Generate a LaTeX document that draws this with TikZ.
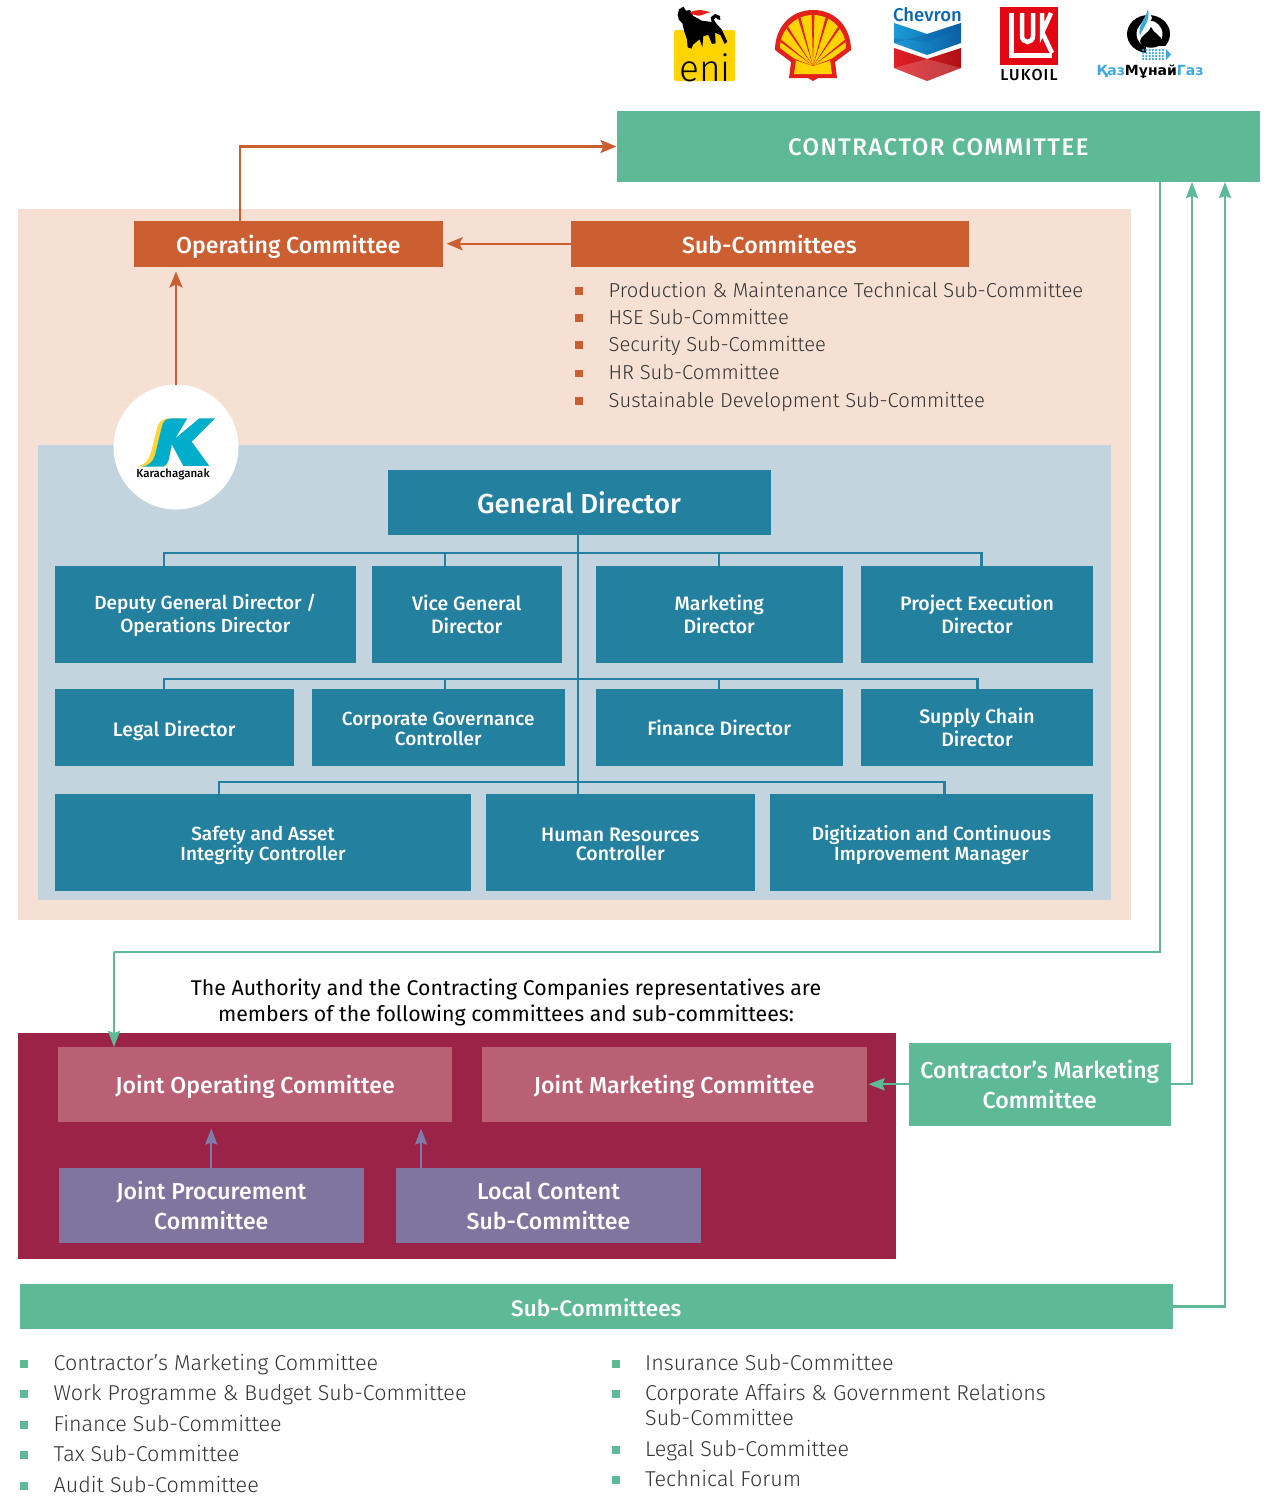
\documentclass[tikz,border=0pt]{standalone}
\usepackage{fontspec}
\setmainfont{Fira Sans}
\newfontfamily\mdf{Fira Sans Medium}
\newfontfamily\ltf{Fira Sans Light}
\newfontfamily\kmg{DejaVu Sans Bold}
\usetikzlibrary{arrows.meta}
\definecolor{peach}{HTML}{F5E0D3}
\definecolor{panel}{HTML}{C4D4DF}
\definecolor{teal1}{HTML}{23809E}
\definecolor{green1}{HTML}{5EBA96}
\definecolor{orange1}{HTML}{CB5F32}
\definecolor{crim}{HTML}{9B2348}
\definecolor{rose}{HTML}{B96075}
\definecolor{viol}{HTML}{7F759E}
\definecolor{arrowv}{HTML}{7F7BA8}
\definecolor{txt}{HTML}{333333}
\definecolor{kteal}{HTML}{00AECB}
\definecolor{kyel}{HTML}{FFD53A}
\definecolor{kblue}{HTML}{3DA9E0}
\definecolor{eniy}{HTML}{FFD400}
\definecolor{shellr}{HTML}{E4201B}
\definecolor{luk}{HTML}{E30613}
\definecolor{chevt}{HTML}{0B66B1}
\definecolor{chevb}{HTML}{1B9BD7}
\definecolor{chevd}{HTML}{0B5FA5}
\definecolor{chevr}{HTML}{E01F26}
\definecolor{chevs}{HTML}{B01116}
\newcommand{\fs}[2]{\fontsize{#1}{#2}\selectfont}
\newcommand{\tp}[1]{\rule{0pt}{#1pt}}
\tikzset{
  box/.style={inner sep=0pt,outer sep=0pt,align=center,text=white},
  tealbox/.style={fill=teal1,font=\mdf\fs{19.5}{#1}},
  tealsm/.style={fill=teal1,font=\mdf\fs{19}{#1}},
  headbox/.style={font=\mdf\fs{23.1}{30}},
  orgline/.style={draw=teal1,line width=2.4pt},
  orarrow/.style={draw=orange1,line width=2.4pt,-{Stealth[length=16pt,width=13pt,inset=3pt]}},
  grarrow/.style={draw=green1,line width=2.4pt,-{Stealth[length=16pt,width=12pt,inset=2pt]}},
  viarrow/.style={draw=arrowv,line width=2pt,-{Stealth[length=16pt,width=12pt,inset=2pt]}},
  listitem/.style={anchor=base west,inner sep=0pt,text=txt,font=\ltf\fs{21.5}{26},align=left},
  listtop/.style={listitem,font=\ltf\fs{20.2}{26}},
  bul/.style={inner sep=0pt,outer sep=0pt,minimum size=7.5pt},
}
% name, x0,y0,x1,y1, options, text
\newcommand{\bx}[7]{\node[box,#6,minimum width={(#4-#2)*1pt},minimum height={(#5-#3)*1pt}] (#1) at ({(#2+#4)/2},{(#3+#5)/2}) {#7};}
\begin{document}
\begin{tikzpicture}[x=1pt,y=-1pt]
\useasboundingbox (0,0) rectangle (1280,1507);
\fill[white] (0,0) rectangle (1280,1507);
% backgrounds
\fill[peach] (18,209) rectangle (1131,920);
\fill[panel] (38,444.5) rectangle (1110.5,900);
\fill[crim] (18,1033) rectangle (896,1258.5);
% top logos: eni
\fill[rounded corners=1.5pt,fill=eniy] (674,30) rectangle (735,81);
\begin{scope}[shift={(665,0)},x=0.3333pt,y=-0.3333pt]
\fill[black] (42,28)--(55,20)--(63,32)--(75,30)--(85,48)--(110,62)--(140,66)--(137,52)--(150,42)--(165,48)--(166,60)--(158,58)--(152,52)--(146,58)--(155,72)--(170,88)--(187,125)--(179,132)--(166,105)--(150,98)--(152,130)--(141,132)--(130,105)--(115,108)--(112,142)--(104,118)--(95,125)--(84,134)--(80,146)--(68,142)--(66,118)--(58,95)--(52,70)--(42,60)--(38,46)--cycle;
\fill[shellr] (74,38) .. controls (90,28) and (110,28) .. (136,37) .. controls (118,40) and (110,48) .. (98,47) .. controls (90,47) and (82,42) .. (74,38) -- cycle;
\end{scope}
\begin{scope}
\clip (670,45) rectangle (740,81);
\node[inner sep=0pt,anchor=base,font=\ltf\fs{37}{37}] (eni) at (705,81.5) {eni};
\end{scope}
% shell
\fill[shellr] (813,10) .. controls (790,10) and (775,28) .. (775,50) -- (791,62) -- (789,78) -- (808,78) -- (813,81) -- (818,78) -- (837,78) -- (835,62) -- (851,50) .. controls (851,28) and (836,10) .. (813,10) -- cycle;
\begin{scope}
\clip (813,15) .. controls (794,15) and (780,31) .. (780,48) -- (796,60) -- (794,74) -- (832,74) -- (830,60) -- (846,48) .. controls (846,31) and (832,15) .. (813,15) -- cycle;
\fill[eniy] (770,5) rectangle (856,85);
\foreach \a in {20,38,56,74,90,106,124,142,160}{
  \fill[shellr] (813,66) -- ++({-\a-1.5}:60) -- ++({90-\a}:3.2) -- cycle;
}
\end{scope}
% chevron
\node[inner sep=0pt,text=chevt,font=\mdf\fs{18.5}{20}] (chev) at (927.5,14.5) {Chevron};
\shade[left color=chevb,right color=chevd] (894,23)--(927,34)--(961,23)--(961,43)--(927,55)--(894,43)--cycle;
\fill[chevd,opacity=.35] (894,43)--(927,34)--(961,23)--(961,28)--(927,42)--(894,38)--cycle;
\shade[left color=chevr,right color=chevs] (894,48)--(927,59)--(961,48)--(961,68)--(927,81)--(894,68)--cycle;
\fill[white,opacity=.18] (894,68)--(927,59)--(961,68)--(927,81)--cycle;
% lukoil
\fill[luk] (1000,7) rectangle (1058,65);
\draw[white,line width=5pt] (1011,13)--(1011,55)--(1052,55);
\draw[white,line width=4.5pt] (1022,13)--(1022,36) arc[start angle=180,end angle=0,x radius=5.5pt,y radius=-6pt] -- (1033,13);
\draw[white,line width=4.5pt] (1042,13)--(1042,33)--(1051,13);
\draw[white,line width=4.5pt] (1042,32)--(1052,53);
\node[inner sep=0pt,font=\mdf\fs{16}{16}] (luk) at (1029,74.5) {\addfontfeatures{LetterSpace=7}LUKOIL};
% kmg
\fill[black,even odd rule] (1148.5,34) ellipse[x radius=21.5pt,y radius=19pt] (1149.5,34) ellipse[x radius=13pt,y radius=13.5pt];
\fill[white] (1146,46) rectangle (1172,60);
\fill[white] (1148,10) .. controls (1146,20) and (1136,26) .. (1138,38) .. controls (1142,30) and (1148,26) .. (1152,18) -- cycle;
\fill[kblue] (1148,9) .. controls (1146,18) and (1137,26) .. (1140,36) .. controls (1142,28) and (1151,22) .. (1148,9) -- cycle;
\fill[black] (1151,27) .. controls (1153,33) and (1162,36) .. (1162,41) .. controls (1162,50) and (1140,50) .. (1140,41) .. controls (1140,36) and (1149,33) .. (1151,27) -- cycle;
\foreach \i in {0,...,6}{\foreach \j in {0,...,3}{\fill[kblue] ({1143+\i*3.3},{50+\j*3}) circle[radius=1.25pt];}}
\fill[kblue] (1166,49) -- (1171,54.5) -- (1166,60) -- cycle;
\node[inner sep=0pt,font=\kmg\fs{14}{15}] (kz) at (1150,72) {\color{kblue}Қаз\color{black}Мұнай\color{kblue}Газ};
% contractor committee
\bx{cc}{616.5}{111}{1260}{182}{fill=green1,font=\mdf\fs{24}{28}}{\tp{19}\addfontfeatures{LetterSpace=6}CONTRACTOR COMMITTEE}
\bx{oc}{134}{221}{442.5}{266.5}{fill=orange1,headbox}{\tp{25}Operating Committee}
\bx{sc}{570.5}{221}{968.5}{266.5}{fill=orange1,headbox}{\tp{20}Sub-Committees}
% list 1
\foreach \t/\y [count=\n] in {Production \& Maintenance Technical Sub-Committee/297,HSE Sub-Committee/324,Security Sub-Committee/351,HR Sub-Committee/379.5,Sustainable Development Sub-Committee/407}{
  \node[bul,fill=orange1] (oa\n) at (579,{\y-6}) {};
  \node[listtop] (ol\n) at (608.5,\y) {\t};
}
% Karachaganak circle
\node[circle,fill=white,minimum size=125pt,inner sep=0pt,outer sep=0pt] (kc) at (176,447) {};
\begin{scope}[shift={(100,370)},x=0.3333pt,y=-0.3333pt]
\fill[kyel] (110,290) .. controls (140,285) and (150,262) .. (156,235) -- (172,172) .. controls (178,150) and (190,145) .. (215,145) -- (240,145) -- (200,288) -- cycle;
\fill[kteal] (190,290) .. controls (200,285) and (205,275) .. (208,262) -- (215,222) -- (250,288) -- (328,288) -- (275,215) -- (345,145) -- (298,145) -- (226,205) -- (262,145) -- (215,145) .. controls (195,145) and (190,155) .. (185,172) -- (165,255) .. controls (160,275) and (145,288) .. (125,290) -- cycle;
\end{scope}
\node[inner sep=0pt,font=\mdf\fs{11.5}{14}] (kn) at (173,474) {Karachaganak};
% org
\bx{gd}{387.5}{470}{770.5}{534.5}{fill=teal1,font=\mdf\fs{27.5}{32}}{\tp{23}General Director}
\bx{dgd}{55}{566}{355.5}{662.5}{tealsm=23}{\tp{18.5}Deputy General Director /\\Operations Director}
\bx{vgd}{372}{566}{561.5}{662.5}{tealbox=23}{Vice General\\Director}
\bx{md}{596}{566}{842.5}{662.5}{tealbox=23}{Marketing\\Director}
\bx{pe}{861}{566}{1093}{662.5}{tealbox=23}{Project Execution\\Director}
\bx{ld}{55}{689}{293.5}{766}{tealbox=20}{\tp{23}Legal Director}
\bx{cg}{312}{689}{564.5}{766}{tealsm=20}{\tp{16.5}Corporate Governance\\Controller}
\bx{fd}{596}{689}{842.5}{766}{tealbox=20}{\tp{17}Finance Director}
\bx{sd}{861}{689}{1093}{766}{tealbox=23}{\tp{15.5}Supply Chain\\Director}
\bx{sa}{55}{794}{471}{890.5}{tealsm=19.5}{\tp{21}Safety and Asset\\Integrity Controller}
\bx{hr}{486}{794}{754.5}{890.5}{tealbox=19.5}{\tp{18}Human Resources\\Controller}
\bx{dg}{770}{794}{1093}{890.5}{tealsm=19.5}{\tp{21}Digitization and Continuous\\Improvement Manager}
% org lines
\draw[orgline] ([xshift=-1pt]gd.south) -- ([xshift=-1pt]gd.south |- hr.north);
\coordinate (busa) at (578,553);
\coordinate (busb) at (578,679);
\coordinate (busc) at (578,782);
\draw[orgline] ([xshift=-41pt]dgd.north) |- (busa);
\draw[orgline] ([xshift=-21.5pt]vgd.north) |- (busa);
\draw[orgline] (md.north) |- (busa);
\draw[orgline] ([xshift=4.5pt]pe.north) |- (busa);
\draw[orgline] ([xshift=-10pt]ld.north) |- (busb);
\draw[orgline] ([xshift=7pt]cg.north) |- (busb);
\draw[orgline] (fd.north) |- (busb);
\draw[orgline] ([xshift=.5pt]sd.north) |- (busb);
\draw[orgline] ([xshift=-44pt]sa.north) |- (busc);
\draw[orgline] ([xshift=13pt]dg.north) |- (busc);
% orange arrows
\draw[orarrow] ([xshift=-48pt]oc.north) |- (cc.west);
\draw[orarrow] (sc.west) -- ([xshift=4pt]oc.east);
\draw[orarrow] (kc.north) -- ([yshift=-5pt]oc.south -| kc.north);
% statement
\node[inner sep=0pt,text=black,align=center,font=\fs{21.3}{26}] (auth) at (506,1002) {The Authority and the Contracting Companies representatives are\\members of the following committees and sub-committees:};
% joint
\bx{joc}{58}{1047}{452}{1121.5}{fill=rose,headbox}{\tp{24}Joint Operating Committee}
\bx{jmc}{482}{1047}{866.5}{1121.5}{fill=rose,headbox}{\tp{24}Joint Marketing Committee}
\bx{jpc}{59}{1168}{363.5}{1243}{fill=viol,headbox}{\tp{18}Joint Procurement\\Committee}
\bx{lc}{396}{1168}{701}{1243}{fill=viol,headbox}{\tp{18}Local Content\\Sub-Committee}
\bx{cm}{909}{1043}{1170.5}{1125.5}{fill=green1,headbox}{\tp{18}Contractor’s Marketing\\Committee}
\bx{scb}{20}{1284}{1172.5}{1329}{fill=green1,font=\mdf\fs{22.5}{28}}{\tp{20}Sub-Committees}
\draw[viarrow] (jpc.north) -- ([yshift=-7pt]jpc.north |- joc.south);
\draw[viarrow] ([xshift=-127.5pt]lc.north) -- ([xshift=-127.5pt,yshift=-7pt]lc.north |- joc.south);
% green arrows
\coordinate (gmid) at (114,952);
\draw[grarrow,-] ([xshift=221.75pt]cc.south) |- (gmid);
\draw[grarrow] (gmid) -- ([xshift=-141pt]joc.north);
\draw[grarrow] (cm.west) -- ([xshift=2pt]jmc.east |- cm.west);
\draw[grarrow] (cm.east) -| ([xshift=253.75pt]cc.south);
\draw[grarrow] (scb.east) -| ([xshift=286.75pt]cc.south);
% lists
\foreach \t/\y [count=\n] in {Contractor’s Marketing Committee/1370,Work Programme \& Budget Sub-Committee/1400,Finance Sub-Committee/1431,Tax Sub-Committee/1461,Audit Sub-Committee/1492}{
  \node[bul,fill=green1] (ga\n) at (24,{\y-6}) {};
  \node[listitem] (gl\n) at (53.5,\y) {\t};
}
\foreach \t/\y [count=\n] in {Insurance Sub-Committee/1370,Corporate Affairs \& Government Relations/1400,Legal Sub-Committee/1456,Technical Forum/1486}{
  \node[bul,fill=green1] (gb\n) at (616,{\y-6}) {};
  \node[listitem] (gr\n) at (645,\y) {\t};
}
\node[listitem] (gr5) at (645,1425) {Sub-Committee};
\end{tikzpicture}
\end{document}
